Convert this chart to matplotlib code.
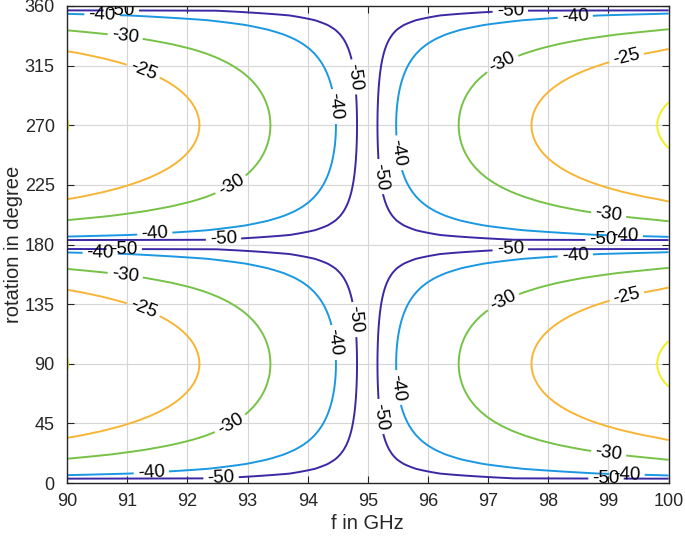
import numpy as np
import matplotlib
matplotlib.use("Agg")
import matplotlib.pyplot as plt

plt.rcParams["font.family"] = ["Liberation Sans", "DejaVu Sans"]

f_null = 95.0
f_below = [94.98, 94.82, 94.47, 93.38, 92.2, 90.0]
lvl_below = [-69, -50, -40, -30, -25, -19.97]
f_above = [95.02, 95.16, 95.47, 96.51, 97.72, 99.81, 100.0]
lvl_above = [-68, -50, -40, -30, -25, -20, -19.6]

levels = [-50, -40, -30, -25, -20]
line_colors = ["#3b28a4", "#1b98e2", "#76c246", "#f7b536", "#f0f020"]

# where the labels sit (f in GHz, rotation in degree)
label_pos = {
    -50: [(90.9, 357), (92.6, 184), (90.95, 177), (92.56, 4),
          (94.7, 306), (95.17, 231), (94.7, 123), (95.17, 50),
          (97.37, 355), (98.91, 182), (97.37, 174), (98.96, 1.5)],
    -40: [(90.58, 353), (91.46, 186.5), (90.55, 175), (91.4, 7.5),
          (94.42, 284), (95.49, 249), (94.42, 106), (95.49, 72),
          (98.45, 351), (99.28, 185), (98.45, 171), (99.31, 6)],
    -30: [(90.96, 335), (92.71, 226), (90.96, 155), (92.71, 45),
          (97.25, 315.5), (99.0, 201), (97.25, 137), (99.0, 21)],
    -25: [(91.25, 309), (91.25, 129), (99.31, 319), (99.31, 140)],
    -20: [],
}

freq = np.linspace(90, 100, 501)
rot = np.linspace(0, 360, 101)  # 3.6 deg steps


def cut_level(f):
    d = np.log10(np.maximum(np.abs(f - f_null), 1e-4))
    lo = np.interp(d, np.log10(f_null - np.array(f_below)), lvl_below)
    hi = np.interp(d, np.log10(np.array(f_above) - f_null), lvl_above)
    return np.where(f < f_null, lo, hi)


rot_db = 20 * np.log10(np.maximum(np.abs(np.sin(np.deg2rad(rot))), 1e-6))
Z = cut_level(freq)[None, :] + rot_db[:, None]

fig = plt.figure(figsize=(6.85, 5.38), dpi=100)
ax = fig.add_axes([0.098, 0.102, 0.878, 0.887])
ax.grid(True, color="#d6d6d6", lw=0.8)
ax.set_axisbelow(True)

for lvl, col in zip(levels, line_colors):
    cs = ax.contour(freq, rot, Z, levels=[lvl], colors=[col],
                    linewidths=1.4, linestyles="solid")
    if label_pos[lvl]:
        ax.clabel(cs, manual=label_pos[lvl], inline=True, inline_spacing=4,
                  fontsize=13.5, colors="k", fmt="%d")

ax.set_xlim(90, 100)
ax.set_ylim(0, 360)
ax.set_xticks(np.arange(90, 101, 1))
ax.set_yticks(np.arange(0, 361, 45))
ax.tick_params(direction="in", top=True, right=True, length=5,
               labelsize=13, color="#262626", labelcolor="#262626")
ax.tick_params(axis="x", pad=7)
ax.tick_params(axis="y", pad=9)
for sp in ax.spines.values():
    sp.set_color("#262626")
    sp.set_linewidth(1.0)

ax.set_xlabel("f in GHz", fontsize=14.5, color="#262626", labelpad=3)
ax.set_ylabel("rotation in degree", fontsize=14.5, color="#262626", labelpad=1)

fig.savefig("out.png", dpi=100)
